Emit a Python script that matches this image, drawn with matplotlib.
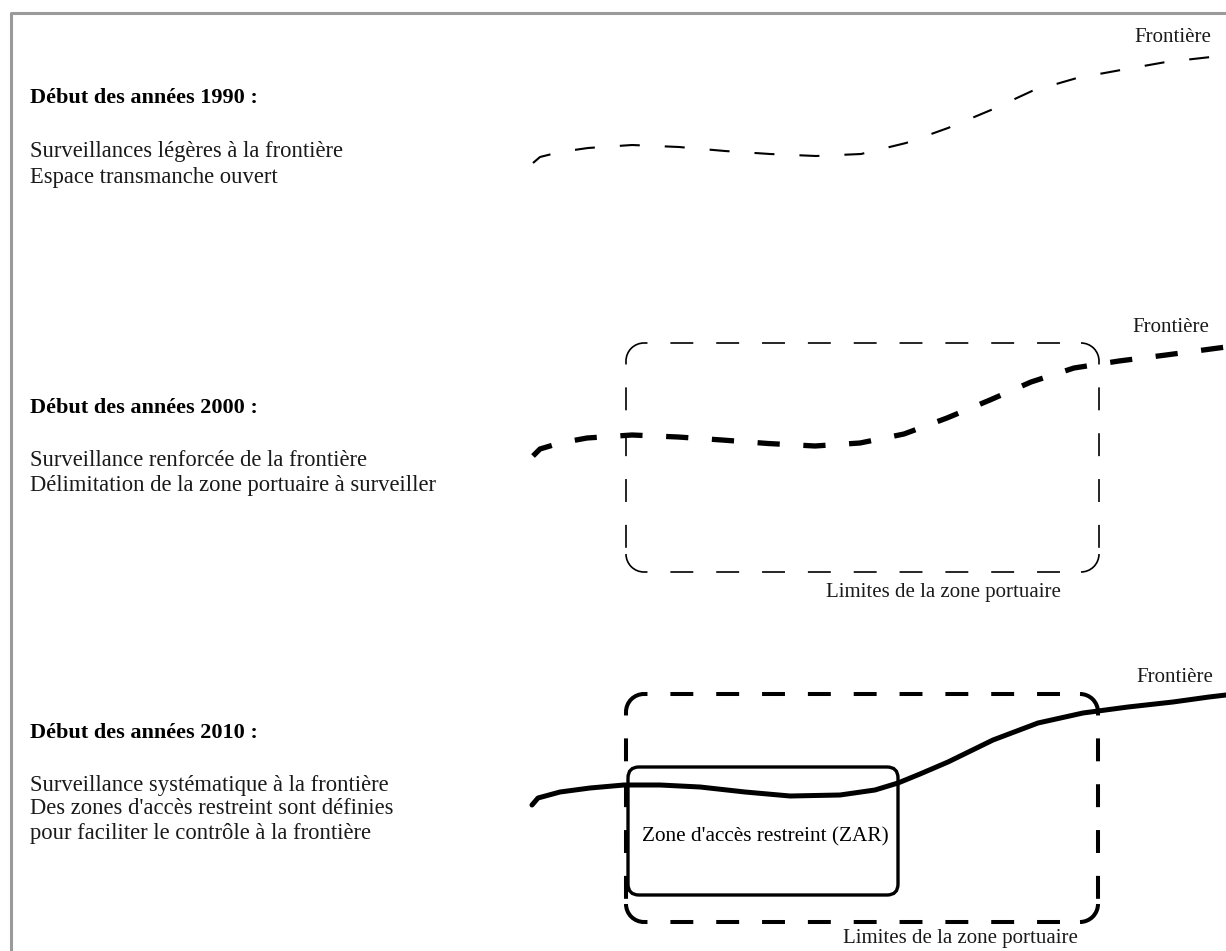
import matplotlib.pyplot as plt
from matplotlib.patches import Arc, FancyBboxPatch

plt.rcParams['font.family'] = ['Liberation Serif', 'DejaVu Serif']
plt.rcParams['lines.scale_dashes'] = False

x_1990 = [533, 540, 560, 588, 632, 679, 725, 770, 816, 861, 906, 948, 991, 1032, 1077,
          1121, 1166, 1211, 1226]
y_1990 = [163, 157, 152, 148, 145, 147, 151, 154, 156, 154, 143, 128, 110, 91, 78,
          70, 62, 57, 55]

x_2000 = [533, 540, 560, 587, 632, 678, 722, 768, 815, 860, 904, 947, 990, 1031, 1074,
          1119, 1166, 1211, 1226]
y_2000 = [456, 449, 443, 438, 435, 437, 440, 443.5, 446, 443, 434, 418, 400, 382, 368,
          361, 355, 349, 347]

x_2010 = [532, 538, 560, 590, 624, 660, 700, 745, 790, 840, 875, 898, 920, 948, 993,
          1038, 1083, 1128, 1173, 1209, 1226]
y_2010 = [805, 798, 792, 788, 785, 785, 787, 792, 796, 795, 790, 783, 774, 762, 740,
          723, 713, 707, 702, 697, 695]

titles = ['Début des années 1990 :', 'Début des années 2000 :', 'Début des années 2010 :']
title_y = [98, 408, 733]
descriptions = [
    ['Surveillances légères à la frontière', 'Espace transmanche ouvert'],
    ['Surveillance renforcée de la frontière', 'Délimitation de la zone portuaire à surveiller'],
    ['Surveillance systématique à la frontière', "Des zones d'accès restreint sont définies",
     'pour faciliter le contrôle à la frontière'],
]
desc_y = [[152, 177], [460, 485], [785, 809, 833]]

# zone portuaire (x0, y0, x1, y1) et ZAR
port_2000 = (626, 343, 1099, 572)
port_2010 = (626, 694, 1098, 922)
zar_2010 = (628, 767, 898, 895)

fig = plt.figure(figsize=(12.26, 9.51), dpi=100)
ax = fig.add_axes([0, 0, 1, 1])
ax.set_xlim(0, 1226)
ax.set_ylim(951, 0)
ax.axis('off')

# cadre gris
ax.plot([11, 11, 1226], [951, 13, 13], color='#9a9a9a', lw=2.2, solid_capstyle='butt')

# textes de gauche
for i in range(len(titles)):
    ax.text(30, title_y[i], titles[i], fontsize=16, fontweight='bold', va='center', ha='left')
    for j in range(len(descriptions[i])):
        ax.text(30, desc_y[i][j], descriptions[i][j], fontsize=16.3, va='center', ha='left',
                color='#1a1a1a')

# frontières
ax.plot(x_1990, y_1990, color='black', lw=1.5, linestyle=(0, (14.4, 18)))
ax.plot(x_2000, y_2000, color='black', lw=3.8, linestyle=(0, (16, 17)))
ax.plot(x_2010, y_2010, color='black', lw=3.6, solid_capstyle='round')


def dashed_box(rect, lw, r):
    # côtés en tirets, coins arrondis pleins
    x0, y0, x1, y1 = rect
    dash = (14, (16.5, 16.5))
    ax.plot([x0 + r, x1 - r], [y0, y0], color='black', lw=lw, linestyle=dash)
    ax.plot([x0 + r, x1 - r], [y1, y1], color='black', lw=lw, linestyle=dash)
    ax.plot([x0, x0], [y0 + r, y1 - r], color='black', lw=lw, linestyle=dash)
    ax.plot([x1, x1], [y0 + r, y1 - r], color='black', lw=lw, linestyle=dash)
    corners = [(x0 + r, y0 + r, 180, 270), (x1 - r, y0 + r, 270, 360),
               (x1 - r, y1 - r, 0, 90), (x0 + r, y1 - r, 90, 180)]
    for cx, cy, t1, t2 in corners:
        ax.add_patch(Arc((cx, cy), 2 * r, 2 * r, theta1=t1, theta2=t2, color='black', lw=lw))


dashed_box(port_2000, 1.2, 18)
dashed_box(port_2010, 2.9, 18)

x0, y0, x1, y1 = zar_2010
ax.add_patch(FancyBboxPatch((x0, y0), x1 - x0, y1 - y0,
                            boxstyle='round,pad=0,rounding_size=11',
                            fill=False, ec='black', lw=2.4))

ax.text(765, 837, "Zone d'accès restreint (ZAR)", fontsize=15.3, ha='center', va='center')

for x, y in [(1173, 38), (1171, 328), (1175, 677)]:
    ax.text(x, y, 'Frontière', fontsize=15, ha='center', va='center', color='#1a1a1a')
for x, y in [(943, 592), (960, 938)]:
    ax.text(x, y, 'Limites de la zone portuaire', fontsize=15, ha='center', va='center',
            color='#1a1a1a')

fig.savefig('out.png', dpi=100, facecolor='white')
